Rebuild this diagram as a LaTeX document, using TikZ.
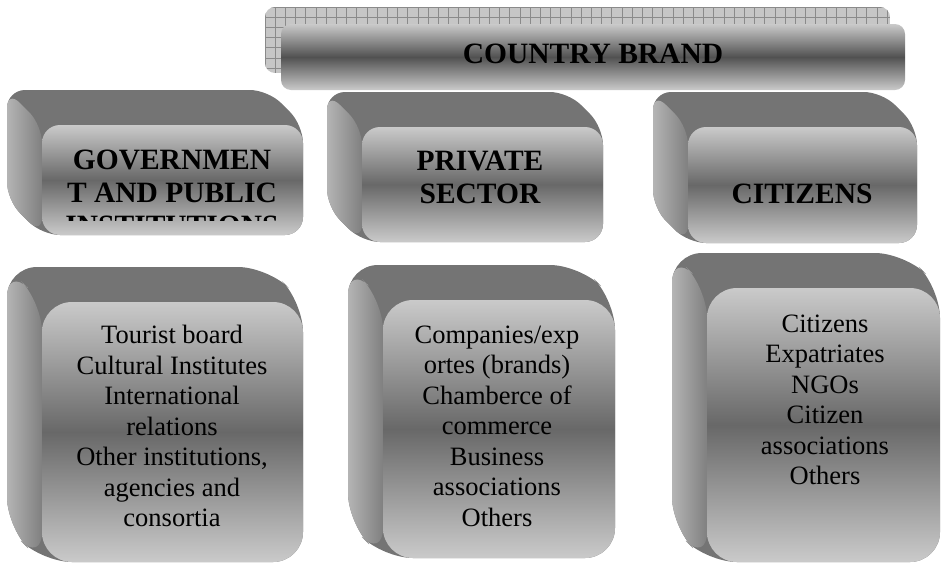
\documentclass[tikz,border=0pt]{standalone}
\usepackage{fontspec}
\setmainfont{Liberation Serif}
\usetikzlibrary{calc}

\definecolor{facelight}{RGB}{202,202,202}
\definecolor{facedark}{RGB}{104,104,104}
\definecolor{topface}{RGB}{116,116,116}
\definecolor{sidelight}{RGB}{180,180,180}
\definecolor{sidedark}{RGB}{128,128,128}
\definecolor{hatchfill}{RGB}{198,198,198}
\definecolor{hatchline}{RGB}{138,138,138}

\begin{document}
\begin{tikzpicture}[x=1pt,y=-1pt,
	headtext/.style={font=\bfseries\fontsize{29.5}{33}\selectfont, align=center, inner sep=0},
	bodytext/.style={font=\fontsize{26.5}{30.5}\selectfont, align=center, inner sep=0}]

	\useasboundingbox (0,0) rectangle (941,563);

	% banner, hatched back
	\begin{scope}
		\clip [rounded corners=10] (265,7) rectangle (890,73);
		\fill [hatchfill] (265,7) rectangle (890,73);
		\foreach \i in {0,...,61}
			\draw [hatchline, line width=0.8] ({265+10.2*\i},7) -- ++(0,66);
		\foreach \j in {0,...,6}
			\draw [hatchline, line width=0.8] (265,{7+10.2*\j}) -- ++(625,0);
	\end{scope}
	\shade [rounded corners=10, top color=facelight, bottom color=facelight, middle color=facedark!115] (281,24) rectangle (905,90);

	% blocks: front face corners and radius
	\foreach \xa/\ya/\xb/\yb/\r in {42/125/303/235/18, 362/127/603/242/18, 688/127/917/243/18,
	                                42/302/303/562/30, 383/300/615/558/30, 707/288/940/562/30} {
		\fill [topface, rounded corners=\r] (\xa-35,\ya-35) -- (\xb-35,\ya-35) -- (\xb,\ya) -- (\xb,\yb) -- (\xa,\yb) -- (\xa-35,\yb-35) -- cycle;
		\shade [left color=sidelight, right color=sidedark, rounded corners=\r] (\xa-35,\ya-35) -- (\xa,\ya) -- (\xa,\yb) -- (\xa-35,\yb-35) -- cycle;
		\shade [rounded corners=\r, top color=facelight, bottom color=facelight, middle color=facedark] (\xa,\ya) rectangle (\xb,\yb);
	}

	\node [headtext, anchor=base] (brand) at (593,63) {COUNTRY BRAND};

	\begin{scope}
		\clip (42,125) rectangle (303,220);
		\node [headtext] (gov) at (172,193) {GOVERNMEN\\T AND PUBLIC\\INSTITUTIONS};
	\end{scope}
	\node [headtext] (priv) at (480,177) {PRIVATE\\SECTOR};
	\node [headtext, anchor=base] (cit) at (802,203) {CITIZENS};

	\node [bodytext] (govlist) at (172,426) {Tourist board\\Cultural Institutes\\International\\relations\\Other institutions,\\agencies and\\consortia};
	\node [bodytext] (privlist) at (497,426) {Companies/exp\\ortes (brands)\\Chamberce of\\commerce\\Business\\associations\\Others};
	\node [bodytext] (citlist) at (825,400) {Citizens\\Expatriates\\NGOs\\Citizen\\associations\\Others};

\end{tikzpicture}
\end{document}
